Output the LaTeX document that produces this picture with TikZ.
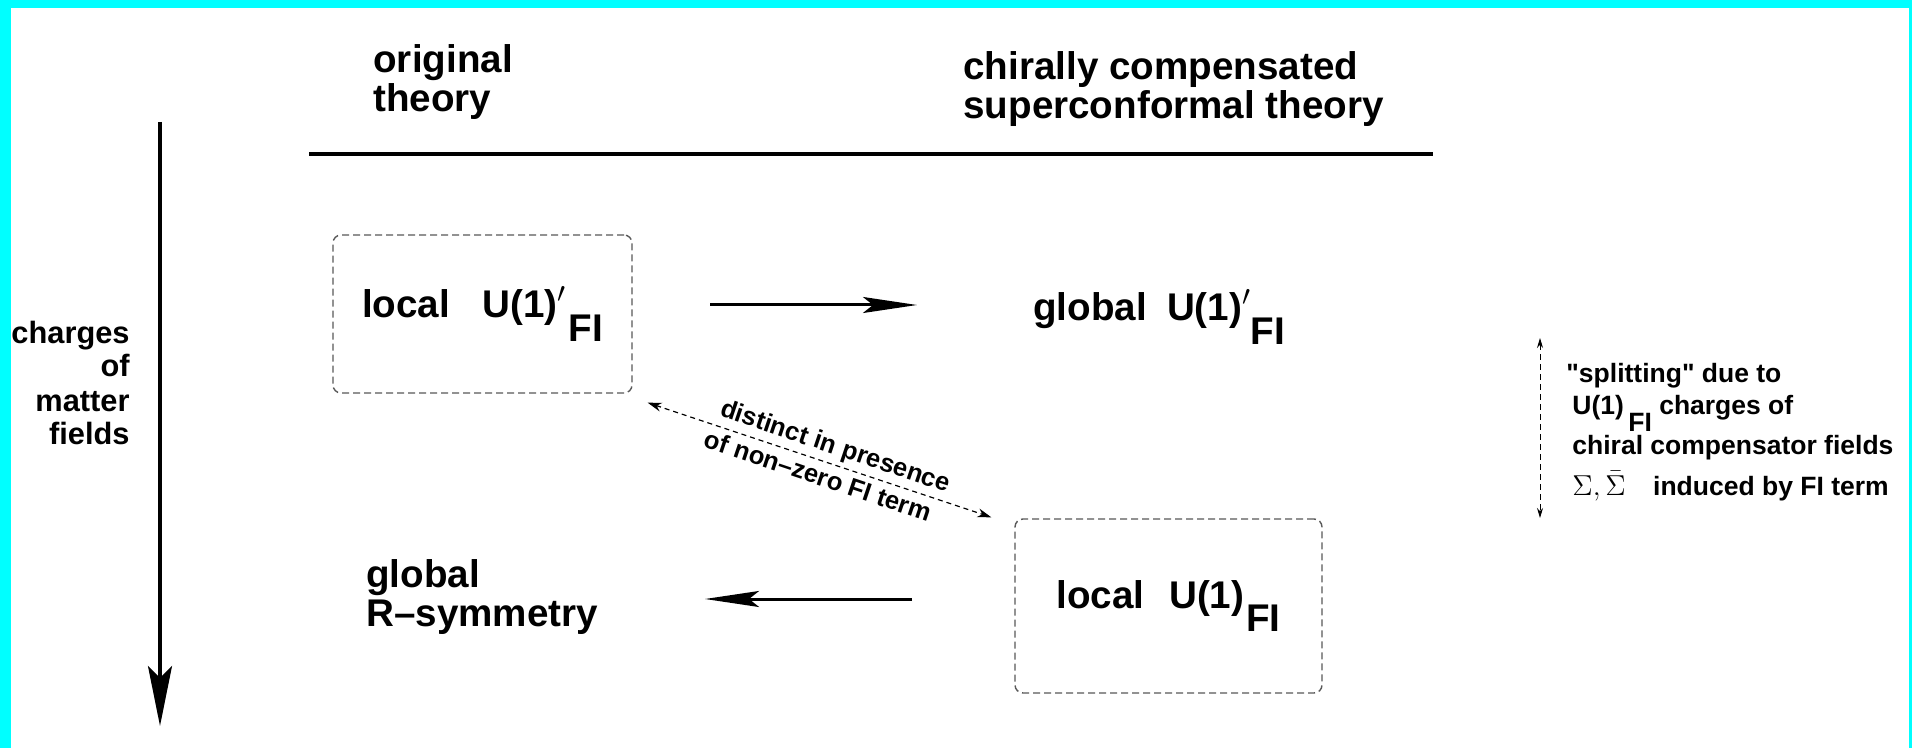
\documentclass[tikz,border=0pt]{standalone}
\usepackage{fontspec}
\setmainfont{Liberation Sans}[Ligatures=TeXOff]
\usetikzlibrary{arrows.meta}

\definecolor{framecyan}{RGB}{0,255,255}
\newcommand{\fsbig}{\fontsize{19.3}{19.5}\selectfont\bfseries}
\newcommand{\fsside}{\fontsize{15.4}{17}\selectfont\bfseries}
\newcommand{\fsnote}{\fontsize{13.25}{20}\selectfont\bfseries}
\newcommand{\fsslant}{\fontsize{12.8}{14}\selectfont\bfseries}
\newcommand{\fisub}{\raisebox{-0.6em}{FI}}

\tikzset{
  txt/.style={inner sep=0pt, align=left},
  fibox/.style={draw=black!65, line width=0.7pt, dash pattern=on 3.5pt off 2pt, rounded corners=4pt, font=\fsbig, inner sep=0pt},
  bigarrow/.style={line width=1.5pt, -{Stealth[length=27pt, width=8pt, inset=5pt]}},
  axisarrow/.style={line width=1.75pt, -{Stealth[length=30pt, width=12pt, inset=6pt]}},
  linkarrow/.style={line width=0.6pt, dash pattern=on 2.5pt off 2pt, {Stealth[length=7pt, width=4.5pt]}-{Stealth[length=7pt, width=4.5pt]}},
  notearrow/.style={line width=0.5pt, dash pattern=on 3pt off 2pt, {Stealth[length=5pt, width=3pt]}-{Stealth[length=5pt, width=3pt]}}
}

\begin{document}
\begin{tikzpicture}[x=0.5pt,y=0.5pt,yscale=-1,xscale=1]
\useasboundingbox (0,0) rectangle (1912,748);

%Frame
\fill[framecyan] (0,0) rectangle (1912,748);
\fill[white] (11,8) rectangle (1909,748);

% Text Node
\node[txt, anchor=base west, font=\fsbig] (orig) at (373,112) {original\\theory};
% Text Node
\node[txt, anchor=base west, font=\fsbig] (comp) at (963,119) {chirally compensated\\superconformal theory};

%Straight Lines
\coordinate (rulel) at (309,154);
\coordinate (ruler) at (1433,154);
\draw[line width=2pt] (rulel) -- (ruler);

%Straight Lines
\coordinate (axtop) at (160,122);
\coordinate (axbot) at (160,726);
\draw[axisarrow] (axtop) -- (axbot);
% Text Node
\node[txt, align=right, anchor=base east, font=\fsside] (charges) at (130,445) {charges\\of\\matter\\fields};

%Shape: Dashed Boxes
\node[fibox, minimum width=149.5pt, minimum height=79pt] (box1) at (482.5,314) {local\hspace{11pt} U(1)$'$\hspace{1pt}\fisub};
\node[fibox, minimum width=153.5pt, minimum height=87pt] (box2) at (1168.5,606) {local\hspace{7pt} U(1)\hspace{1pt}\fisub};

% Text Node
\node[txt, anchor=base west, font=\fsbig] (glob1) at (1033,321) {global\hspace{4.6pt} U(1)$'$\fisub};
% Text Node
\node[txt, anchor=base west, font=\fsbig] (glob2) at (366,626) {global\\R–symmetry};

%Straight Lines
\coordinate (topa) at (710,305);
\coordinate (topb) at (917,305);
\draw[bigarrow] (topa) -- (topb);
\coordinate (bota) at (912,599);
\coordinate (botb) at (705,599);
\draw[bigarrow] (bota) -- (botb);

%Dashed Link
\draw[linkarrow] ([shift={(15,9)}]box1.south east) -- ([shift={(-23,-1)}]box2.north west)
  node[pos=0.53, rotate=-18.6, above, inner sep=2pt, font=\fsslant] (dist1) {distinct in presence}
  node[pos=0.51, rotate=-18.6, below, inner sep=2.5pt, font=\fsslant] (dist2) {of non–zero FI term};

%Note
\coordinate (notetop) at (1540,338);
\coordinate (notebot) at (1540,518);
\draw[notearrow] (notetop) -- (notebot);
% Text Node
\node[txt, anchor=base west, font=\fsnote] (note1) at (1566,383) {"splitting" due to};
% Text Node
\node[txt, anchor=base west, font=\fsnote] (note2) at (1572,415) {U(1)\,\raisebox{-0.64em}{FI} charges of};
% Text Node
\node[txt, anchor=base west, font=\fsnote] (note3) at (1572,455) {chiral compensator fields};
% Text Node
\node[txt, anchor=base west, font=\fsnote] (note4) at (1572,495) {$\Sigma,\bar{\Sigma}$\hspace{10pt} induced by FI term};

\end{tikzpicture}
\end{document}
